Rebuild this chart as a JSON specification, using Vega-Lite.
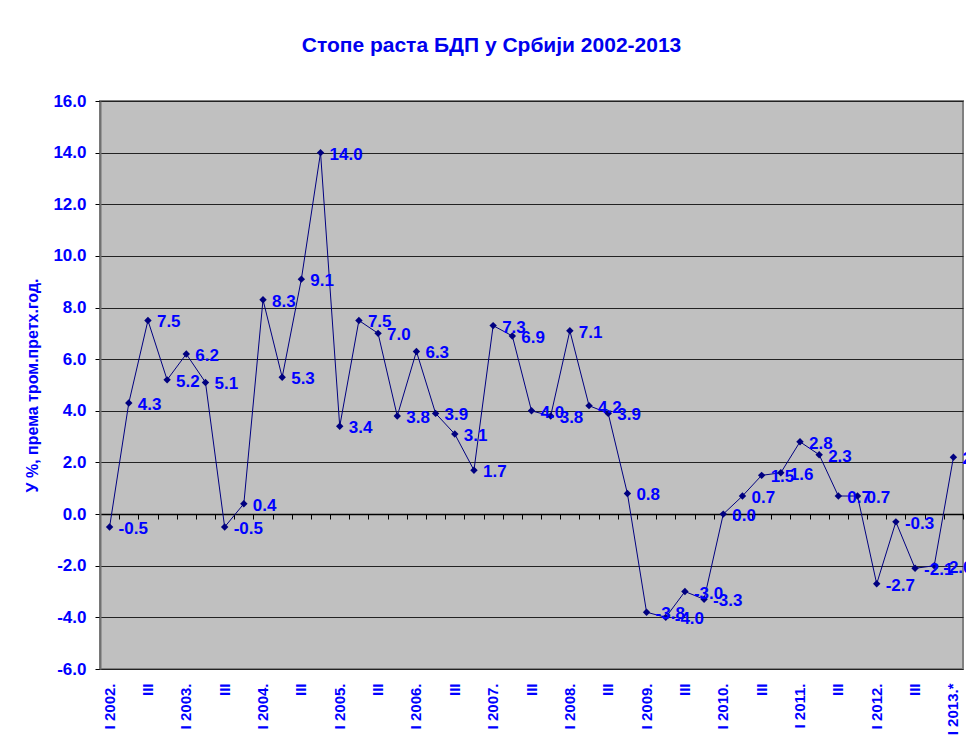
{
  "$schema": "https://vega.github.io/schema/vega-lite/v6.json",
  "width": 863,
  "height": 568,
  "autosize": {"type": "none"},
  "padding": {"left": 100, "top": 101, "right": 3, "bottom": 77},
  "background": "white",
  "title": {
    "text": "Стопе раста БДП у Србији 2002-2013",
    "font": "Liberation Sans",
    "fontSize": 21,
    "fontWeight": "bold",
    "color": "#0000EE",
    "anchor": "middle",
    "frame": "group",
    "dx": -40,
    "baseline": "alphabetic",
    "offset": 19
  },
  "config": {
    "view": {"fill": "#C0C0C0", "stroke": "#808080", "strokeWidth": 2},
    "font": "Liberation Sans"
  },
  "data": {
    "values": [
      {"q": "I 2002.", "v": -0.5}, {"q": "II 2002.", "v": 4.3}, {"q": "III 2002.", "v": 7.5}, {"q": "IV 2002.", "v": 5.2},
      {"q": "I 2003.", "v": 6.2}, {"q": "II 2003.", "v": 5.1}, {"q": "III 2003.", "v": -0.5}, {"q": "IV 2003.", "v": 0.4},
      {"q": "I 2004.", "v": 8.3}, {"q": "II 2004.", "v": 5.3}, {"q": "III 2004.", "v": 9.1}, {"q": "IV 2004.", "v": 14.0},
      {"q": "I 2005.", "v": 3.4}, {"q": "II 2005.", "v": 7.5}, {"q": "III 2005.", "v": 7.0}, {"q": "IV 2005.", "v": 3.8},
      {"q": "I 2006.", "v": 6.3}, {"q": "II 2006.", "v": 3.9}, {"q": "III 2006.", "v": 3.1}, {"q": "IV 2006.", "v": 1.7},
      {"q": "I 2007.", "v": 7.3}, {"q": "II 2007.", "v": 6.9}, {"q": "III 2007.", "v": 4.0}, {"q": "IV 2007.", "v": 3.8},
      {"q": "I 2008.", "v": 7.1}, {"q": "II 2008.", "v": 4.2}, {"q": "III 2008.", "v": 3.9}, {"q": "IV 2008.", "v": 0.8},
      {"q": "I 2009.", "v": -3.8}, {"q": "II 2009.", "v": -4.0}, {"q": "III 2009.", "v": -3.0}, {"q": "IV 2009.", "v": -3.3},
      {"q": "I 2010.", "v": 0.0}, {"q": "II 2010.", "v": 0.7}, {"q": "III 2010.", "v": 1.5}, {"q": "IV 2010.", "v": 1.6},
      {"q": "I 2011.", "v": 2.8}, {"q": "II 2011.", "v": 2.3}, {"q": "III 2011.", "v": 0.7}, {"q": "IV 2011.", "v": 0.7},
      {"q": "I 2012.", "v": -2.7}, {"q": "II 2012.", "v": -0.3}, {"q": "III 2012.", "v": -2.1}, {"q": "IV 2012.", "v": -2.0},
      {"q": "I 2013.*", "v": 2.2}
    ]
  },
  "encoding": {
    "y": {
      "field": "v",
      "type": "quantitative",
      "scale": {"domain": [-6, 16], "nice": false, "zero": false},
      "axis": {
        "values": [-6, -4, -2, 0, 2, 4, 6, 8, 10, 12, 14, 16],
        "labelExpr": "replace(format(datum.value, '.1f'), '\u2212', '-')",
        "title": "У %, према тром.претх.год.",
        "titleFont": "Liberation Sans",
        "titleFontSize": 16,
        "titleFontWeight": "bold",
        "titleColor": "#0000FF",
        "titleX": -68,
        "titleBaseline": "middle",
        "labelFont": "Liberation Sans",
        "labelFontSize": 17,
        "labelFontWeight": "bold",
        "labelColor": "#0000FF",
        "labelPadding": 9,
        "tickSize": 5,
        "tickColor": "#000000",
        "domainColor": "#707070",
        "domainWidth": 2,
        "grid": true,
        "gridColor": "#222222",
        "gridWidth": 1
      }
    }
  },
  "layer": [
    {
      "mark": {
        "type": "line",
        "color": "#000080",
        "strokeWidth": 1,
        "point": {"shape": "diamond", "size": 55, "filled": true, "color": "#000080"}
      },
      "encoding": {
        "x": {
          "field": "q",
          "type": "ordinal",
          "sort": null,
          "bandPosition": 0.5,
          "scale": {"type": "band", "paddingInner": 0, "paddingOuter": 0},
          "axis": {
            "orient": "bottom",
            "title": null,
            "labels": false,
            "offset": -155,
            "domain": true,
            "domainColor": "#000000",
            "domainWidth": 1.5,
            "ticks": true,
            "tickBand": "extent",
            "tickSize": 5,
            "tickColor": "#000000",
            "grid": false
          }
        }
      }
    },
    {
      "mark": {
        "type": "text",
        "align": "left",
        "baseline": "middle",
        "dx": 9,
        "dy": 2,
        "font": "Liberation Sans",
        "fontSize": 17,
        "fontWeight": "bold",
        "color": "#0000FF",
        "text": {"expr": "replace(format(datum.v, '.1f'), '\u2212', '-')"}
      },
      "encoding": {
        "x": {
          "field": "q",
          "type": "ordinal",
          "sort": null,
          "bandPosition": 0.5,
          "scale": {"type": "band", "paddingInner": 0, "paddingOuter": 0},
          "axis": {
            "orient": "bottom",
            "title": null,
            "domain": false,
            "ticks": false,
            "grid": false,
            "labelAngle": -90,
            "labelAlign": "right",
            "labelBaseline": "middle",
            "labelPadding": 14,
            "labelFont": "Liberation Sans",
            "labelFontSize": 15,
            "labelFontWeight": "bold",
            "labelColor": "#0000FF",
            "labelOverlap": false,
            "labelExpr": "indexof(datum.value, 'III ') == 0 ? 'III' : (indexof(datum.value, 'I ') == 0 ? datum.value : '')"
          }
        }
      }
    }
  ],
  "resolve": {"axis": {"x": "independent"}}
}
